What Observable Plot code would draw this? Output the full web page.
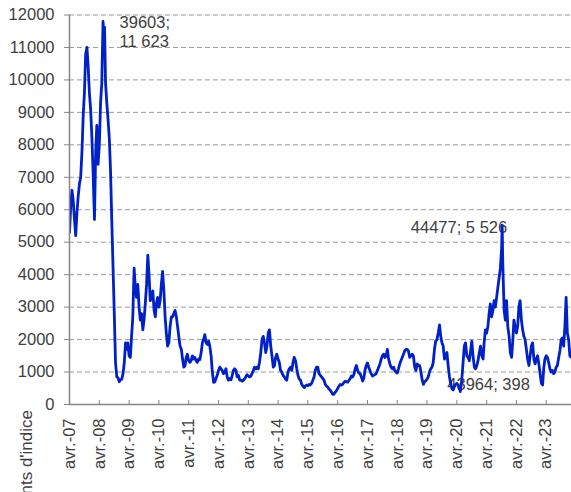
<!DOCTYPE html>
<html><head><meta charset="utf-8">
<script src="https://cdn.jsdelivr.net/npm/d3@7"></script>
<script src="https://cdn.jsdelivr.net/npm/@observablehq/plot@0.6"></script>
<style>html,body{margin:0;padding:0;background:#fff;overflow:hidden}</style>
</head><body><div id="chart"></div>
<script>
// Baltic Dry Index, semi-monthly readings (1st and 16th of each month)
const yTitle = "Points d'indice";
const tickMonthLabel = "avr.";
const tickYears = [2007,2008,2009,2010,2011,2012,2013,2014,2015,2016,2017,2018,2019,2020,2021,2022,2023];
const yTicks = [0,1000,2000,3000,4000,5000,6000,7000,8000,9000,10000,11000,12000];
const firstMonth2007 = 3; // series starts in April 2007
const domainStart = "2007-04-01";
const domainEnd = "2024-02-05";

const v2007 = [5300,6100,6600,6300,5700,5200,5900,6400,6800,7000,7800,8900,9600,10800,11000,10400,9600,9100];
const v2008 = [8200,7100,5700,7800,8600,7400,8000,9300,9900,11800,11200,9900,9300,8800,8200,7200,5600,4200,2800,1300,850,820,700,760];
const v2009 = [780,950,1300,1900,1700,1900,1500,1450,2100,2700,4200,3600,3300,3700,3000,2600,2800,2300,2600,3100,3700,4600,4000,3200];
const v2010 = [3300,3500,2900,2700,3100,3300,3000,3200,3700,4100,3500,2700,2200,1800,1900,2400,2700,2700,2800,2900,2700,2400,2100,1800];
const v2011 = [1700,1400,1150,1200,1450,1550,1350,1300,1350,1500,1400,1450,1350,1300,1400,1380,1600,1900,2000,2150,1900,1850,1950,1800];
const v2012 = [1500,1000,680,700,800,900,1050,1150,1100,1050,950,1000,1100,850,750,800,760,900,1050,1100,1050,850,900,750];
const v2013 = [750,720,750,800,850,920,880,850,870,950,1050,1150,1100,1150,1100,1300,1600,2000,2100,1900,1600,1800,2200,2300];
const v2014 = [1800,1500,1150,1200,1450,1550,1400,1300,1050,1000,900,850,780,750,1000,1100,1150,1050,1300,1450,1350,1100,900,780];
const v2015 = [750,620,560,520,570,600,580,620,600,650,750,850,1050,1150,1150,950,900,850,800,750,620,560,540,480];
const v2016 = [440,380,310,320,380,420,500,560,620,600,620,680,720,700,690,740,800,880,850,920,1100,1200,1050,970];
const v2017 = [950,850,720,820,1050,1200,1280,1150,1050,950,880,900,920,950,1050,1150,1250,1400,1500,1550,1450,1500,1700,1400];
const v2018 = [1250,1150,1100,1150,1050,1000,970,1100,1250,1350,1450,1550,1650,1700,1700,1650,1450,1500,1550,1500,1150,1050,1250,1200];
const v2019 = [1200,1000,750,620,700,730,780,850,1000,1100,1150,1300,1700,1950,2000,2200,2450,2100,1900,1800,1400,1500,1600,1200];
const v2020 = [850,650,480,450,560,620,650,600,500,450,800,1300,1800,1900,1500,1450,1350,1650,1950,1500,1150,1100,1200,1350];
const v2021 = [1600,1800,1500,1400,1900,2300,2200,2400,2800,3100,2700,2900,3200,3000,3300,3600,3900,4200,4800,4300,2900,2600,3200,2400];
const v2022 = [2100,1600,1450,2000,2600,2400,2200,2400,3000,3200,2600,2300,2100,2000,1700,1400,1200,1500,1800,1900,1400,1250,1400,1500];
const v2023 = [1250,950,650,600,1100,1400,1500,1450,1300,1100,1000,1050,950,1000,1150,1200,1450,1650,2000,2050,1800,2400,3300,2200];
const v2024 = [2000,1500,1450,1450];

// Annotated points (Excel date serial; value)
const annotSerials = [39603, 44477, 43964];
const annotValues = [11623, 5526, 398];

const yearly = [[2007,v2007],[2008,v2008],[2009,v2009],[2010,v2010],[2011,v2011],[2012,v2012],[2013,v2013],[2014,v2014],[2015,v2015],[2016,v2016],[2017,v2017],[2018,v2018],[2019,v2019],[2020,v2020],[2021,v2021],[2022,v2022],[2023,v2023],[2024,v2024]];
const serialToDate = s => new Date((s - 25569) * 864e5);

const data = [];
for (const [yr, vals] of yearly) {
  const off = yr === 2007 ? firstMonth2007 * 2 : 0;
  vals.forEach((v, i) => {
    const k = i + off;
    data.push({date: new Date(Date.UTC(yr, Math.floor(k / 2), k % 2 ? 16 : 1)), value: v});
  });
}
const annots = annotSerials.map((s, i) => ({date: serialToDate(s), value: annotValues[i], serial: s}));
annots.forEach(a => data.push({date: a.date, value: a.value}));
data.sort((a, b) => a.date - b.date);

const fr = d3.formatLocale({decimal: ",", thousands: " ", grouping: [3], currency: ["", " €"]});
const fmt = fr.format(",d");
const label = a => `${a.serial}; ${fmt(a.value)}`;

const axisGray = "#868686";
const textGray = "#404040";
const font = "'Liberation Sans', Arial, sans-serif";
const fs = 16.5;

const chart = Plot.plot({
  width: 571, height: 492,
  marginLeft: 69, marginRight: 0, marginTop: 14.5, marginBottom: 88,
  style: {fontFamily: font, fontSize: fs + "px", color: textGray, background: "#fff", overflow: "visible"},
  x: {type: "utc", domain: [new Date(domainStart), new Date(domainEnd)]},
  y: {domain: [0, 12000]},
  marks: [
    Plot.gridY(yTicks.slice(1), {stroke: "#9b9b9b", strokeOpacity: 1, strokeDasharray: "5,3", strokeWidth: 1}),
    Plot.text([annots[0]], {x: "date", y: "value", text: a => `${a.serial};\n${fmt(a.value)}`, textAnchor: "start", lineAnchor: "top", lineHeight: 1.16, dx: 15, dy: -13, fill: textGray, fontSize: fs}),
    Plot.text([annots[1]], {x: "date", y: "value", text: label, textAnchor: "end", lineAnchor: "middle", dx: 5, dy: 3, fill: textGray, fontSize: fs}),
    Plot.text([annots[2]], {x: "date", y: "value", text: label, textAnchor: "start", lineAnchor: "middle", dx: -13, dy: -7, fill: textGray, fontSize: fs}),
    Plot.line(data, {x: "date", y: "value", stroke: "#0020c8", strokeWidth: 2.8, strokeLinejoin: "round", clip: true}),
    Plot.ruleY([0], {stroke: axisGray, strokeWidth: 1.5}),
    Plot.ruleX([new Date(domainStart)], {stroke: axisGray, strokeWidth: 1.5}),
    Plot.axisY(yTicks, {tickSize: 5, tickPadding: 10, tickFormat: d3.format("d"), stroke: axisGray, label: null, fontSize: fs}),
    Plot.axisX(tickYears.map(y => new Date(Date.UTC(y, 3, 1))), {
      tickSize: 4, dy: -4, tickPadding: 14, tickRotate: -90,
      tickFormat: d => `${tickMonthLabel}-${d3.utcFormat("%y")(d)}`,
      stroke: axisGray, label: null, fontSize: fs
    })
  ]
});

d3.select(chart).append("text")
  .attr("transform", "translate(32,410) rotate(-90)")
  .attr("text-anchor", "end")
  .attr("fill", textGray)
  .attr("font-size", 17)
  .attr("font-family", font)
  .text(yTitle);

document.getElementById("chart").appendChild(chart);
</script>
</body></html>
